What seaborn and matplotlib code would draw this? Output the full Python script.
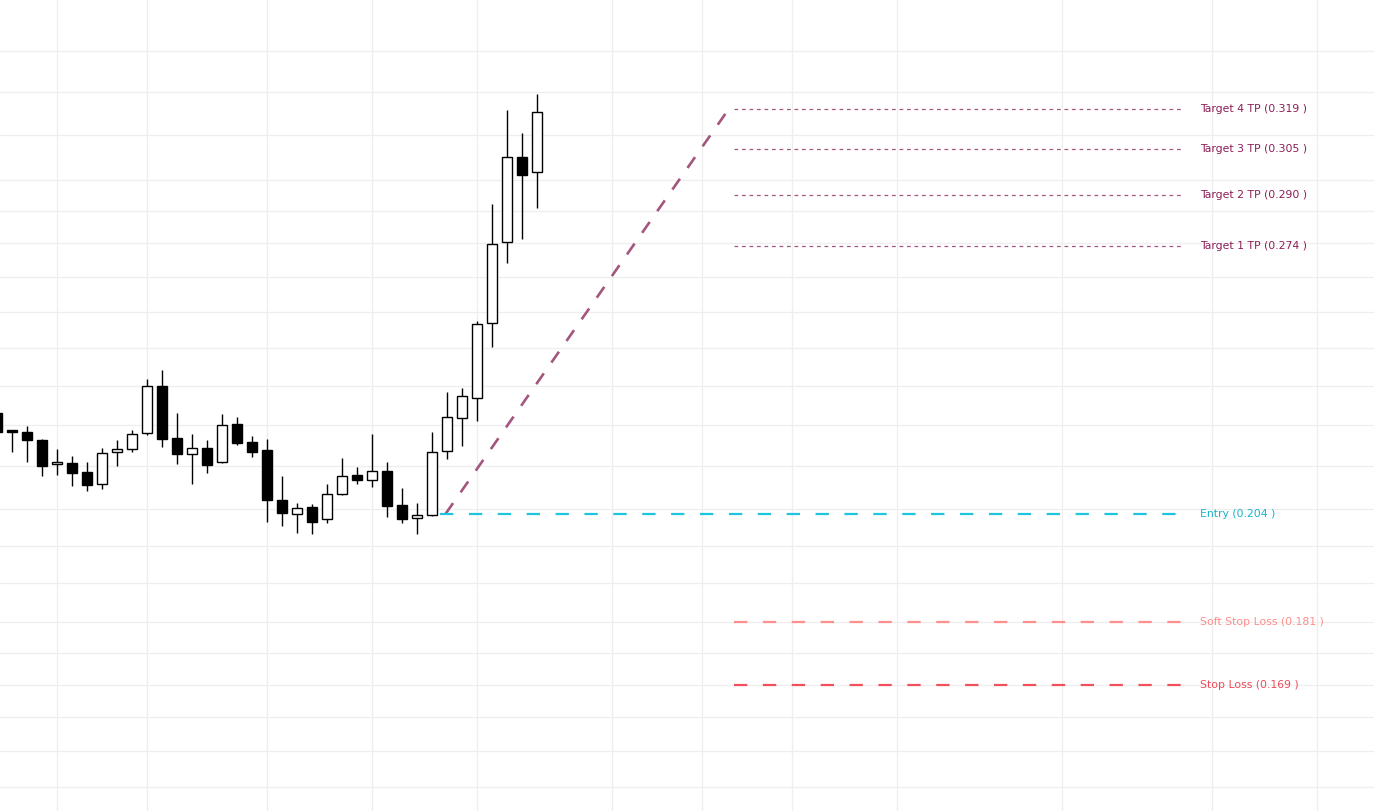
import matplotlib
matplotlib.use("Agg")
import matplotlib.pyplot as plt
import matplotlib.ticker as mticker
import seaborn as sns
import pandas as pd

# candle data (index, open, high, low, close)
opens = [0.2280, 0.2236, 0.2233, 0.2213, 0.2156, 0.2158, 0.2137, 0.2109, 0.2184, 0.2192,
         0.2231, 0.2349, 0.2218, 0.2180, 0.2194, 0.2160, 0.2253, 0.2209, 0.2189, 0.2072,
         0.2040, 0.2056, 0.2029, 0.2085, 0.2130, 0.2118, 0.2139, 0.2060, 0.2031, 0.2038,
         0.2187, 0.2268, 0.2318, 0.2518, 0.2754, 0.3024, 0.2975]
highs = [0.2290, 0.2237, 0.2248, 0.2215, 0.2192, 0.2175, 0.2160, 0.2194, 0.2213, 0.2238,
         0.2368, 0.2391, 0.2280, 0.2228, 0.2213, 0.2278, 0.2270, 0.2223, 0.2216, 0.2127,
         0.2065, 0.2063, 0.2109, 0.2170, 0.2149, 0.2228, 0.2160, 0.2099, 0.2065, 0.2233,
         0.2334, 0.2344, 0.2524, 0.2872, 0.3185, 0.3106, 0.3242]
lows = [0.2230, 0.2184, 0.2160, 0.2127, 0.2130, 0.2104, 0.2092, 0.2097, 0.2151, 0.2184,
        0.2226, 0.2197, 0.2156, 0.2109, 0.2134, 0.2158, 0.2201, 0.2172, 0.2022, 0.2013,
        0.1998, 0.1995, 0.2020, 0.2083, 0.2109, 0.2102, 0.2033, 0.2020, 0.1995, 0.2036,
        0.2168, 0.2199, 0.2260, 0.2453, 0.2691, 0.2763, 0.2859]
closes = [0.2233, 0.2234, 0.2213, 0.2151, 0.2160, 0.2134, 0.2106, 0.2182, 0.2192, 0.2228,
          0.2349, 0.2216, 0.2180, 0.2194, 0.2153, 0.2251, 0.2206, 0.2184, 0.2072, 0.2042,
          0.2054, 0.2022, 0.2085, 0.2127, 0.2118, 0.2139, 0.2058, 0.2029, 0.2038, 0.2184,
          0.2270, 0.2324, 0.2516, 0.2748, 0.3024, 0.2965, 0.3178]

entry = 0.204
targets = [0.274, 0.290, 0.305, 0.319]
soft_stop = 0.181
stop_loss = 0.169

grid_prices = [0.151, 0.157, 0.163, 0.169, 0.175, 0.181, 0.189, 0.197, 0.205, 0.215,
               0.225, 0.235, 0.245, 0.255, 0.265, 0.275, 0.285, 0.295, 0.31, 0.325, 0.34]
grid_bars = [4, 10, 18, 25, 32, 41, 47, 53, 60, 71, 81, 88]

df = pd.DataFrame({"open": opens, "high": highs, "low": lows, "close": closes})
df["idx"] = range(len(df))
df["up"] = df["close"] >= df["open"]

sns.set_theme(style="whitegrid")
plt.rcParams["font.family"] = ["DejaVu Sans"]

fig = plt.figure(figsize=(13.74, 8.11), dpi=100)
ax = fig.add_axes([0, 0, 1, 1])
ax.set_yscale("log")
ax.set_xlim(0.2, 91.8)
ax.set_ylim(0.1470, 0.3596)

# wicks
ax.vlines(df["idx"], df["low"], df["high"], color="black", linewidth=1.0, zorder=2)
# bodies
body_w = 0.7
for _, r in df.iterrows():
    lo = min(r["open"], r["close"])
    hi = max(r["open"], r["close"])
    if hi - lo < 0.0003:
        hi = lo + 0.0003
    ax.bar(r["idx"], hi - lo, bottom=lo, width=body_w,
           color="white" if r["up"] else "black", edgecolor="black",
           linewidth=1.0, zorder=3)

tp_color = "#a3567e"
tp_text = "#8c1d57"
lvl_start, lvl_end, lbl_x = 49.1, 78.9, 80.2

# projection line entry -> last target
diag = pd.DataFrame({"x": [29.9, 48.8], "y": [entry, targets[-1]]})
sns.lineplot(data=diag, x="x", y="y", ax=ax, color=tp_color, linewidth=1.9,
             dashes=False, zorder=4).lines[-1].set_dashes([5, 5])

for i, t in enumerate(targets):
    ax.hlines(t, lvl_start, lvl_end, color=tp_color, linewidth=0.9,
              linestyles=(0, (3, 3)), zorder=4)
    ax.text(lbl_x, t, f"Target {i + 1} TP ({t:.3f} )", color=tp_text,
            fontsize=7.8, va="center", ha="left")

ax.hlines(entry, 29.5, 79.1, color="#1fc5dd", linewidth=1.6,
          linestyles=(0, (6, 7)), zorder=4)
ax.text(lbl_x, entry, f"Entry ({entry:.3f} )", color="#16b3cc",
        fontsize=7.8, va="center", ha="left")

ax.hlines(soft_stop, lvl_start, 79.1, color="#ff8f8f", linewidth=1.6,
          linestyles=(0, (6, 7)), zorder=4)
ax.text(lbl_x, soft_stop, f"Soft Stop Loss ({soft_stop:.3f} )", color="#ff8c8c",
        fontsize=7.8, va="center", ha="left")

ax.hlines(stop_loss, lvl_start, 79.1, color="#f2505c", linewidth=1.6,
          linestyles=(0, (6, 7)), zorder=4)
ax.text(lbl_x, stop_loss, f"Stop Loss ({stop_loss:.3f} )", color="#ef4858",
        fontsize=7.8, va="center", ha="left")

ax.yaxis.set_major_locator(mticker.FixedLocator(grid_prices))
ax.yaxis.set_minor_locator(mticker.NullLocator())
ax.xaxis.set_major_locator(mticker.FixedLocator(grid_bars))
ax.set_xticklabels([])
ax.set_yticklabels([])
ax.tick_params(length=0)
ax.grid(True, color="#eeeeee", linewidth=0.9)
ax.set_xlabel("")
ax.set_ylabel("")
for s in ax.spines.values():
    s.set_visible(False)
ax.set_axisbelow(True)

fig.savefig("out.png", dpi=100)
plt.close(fig)
